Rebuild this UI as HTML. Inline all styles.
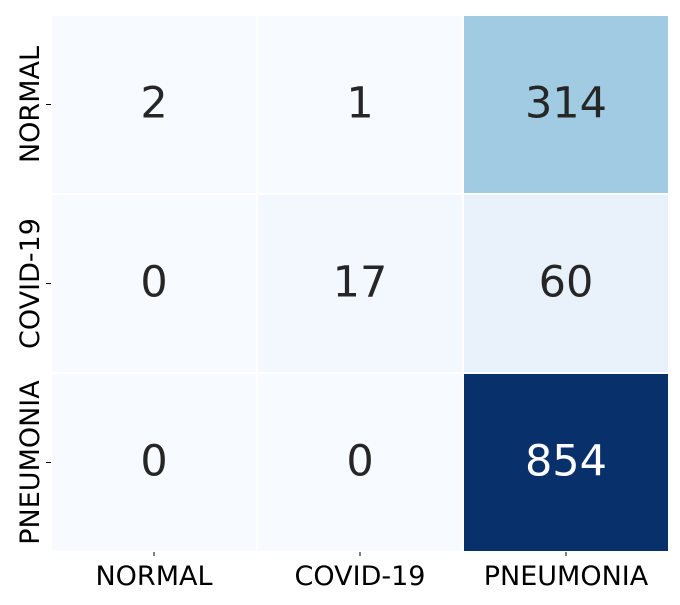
<!DOCTYPE html>
<html><head><meta charset="utf-8"><style>
body{margin:0;background:#fff;width:680px;height:600px;overflow:hidden}
svg{font-family:"DejaVu Sans","Liberation Sans",sans-serif}
</style></head><body>
<svg id="chart" width="680" height="600" xmlns="http://www.w3.org/2000/svg"></svg>
<script>
const categories=["NORMAL","COVID-19","PNEUMONIA"];
const row0=[2,1,314];
const row1=[0,17,60];
const row2=[0,0,854];
const matrix=[row0,row1,row2];
const vmax=854;
const svg=document.getElementById('chart');
const NS='http://www.w3.org/2000/svg';
const L=51,T=15,W=618,H=537;
const cw=W/3,ch=H/3;
const xs=i=>L+i*cw, ys=j=>T+j*ch;
const stops=[[0,[247,251,255]],[0.125,[222,235,247]],[0.25,[198,219,239]],[0.375,[158,202,225]],[0.5,[107,174,214]],[0.625,[66,146,198]],[0.75,[33,113,181]],[0.875,[8,81,156]],[1,[8,48,107]]];
function color(v){const t=Math.max(0,Math.min(1,v/vmax));for(let k=1;k<stops.length;k++){if(t<=stops[k][0]){const a=stops[k-1],b=stops[k];const f=(t-a[0])/(b[0]-a[0]);const c=a[1].map((x,i)=>Math.round(x+(b[1][i]-x)*f));return `rgb(${c})`;}}return 'rgb(8,48,107)';}
function mk(tag,attrs,txt){const e=document.createElementNS(NS,tag);for(const k in attrs)e.setAttribute(k,attrs[k]);if(txt!==undefined)e.textContent=txt;svg.appendChild(e);return e;}
matrix.forEach((row,j)=>row.forEach((v,i)=>{
 const r=mk('rect',{x:xs(i),y:ys(j),width:cw,height:ch,fill:color(v),stroke:'#fff','stroke-width':2});
 
 
 const t=mk('text',{x:xs(i)+cw/2,y:ys(j)+ch/2+13,'text-anchor':'middle','font-size':43,fill:v/vmax>0.6?'#fff':'#262626'},v);
 
 
}));
categories.forEach((c,i)=>{
 const tk=mk('line',{x1:xs(i)+cw/2,x2:xs(i)+cw/2,y1:T+H,y2:T+H+4,stroke:'#000','stroke-width':1});
 
 
 const t=mk('text',{x:xs(i)+cw/2,y:585,'text-anchor':'middle','font-size':27,fill:'#000'},c);
 
 
 const ty=mk('line',{x1:L-5,x2:L,y1:ys(i)+ch/2,y2:ys(i)+ch/2,stroke:'#000','stroke-width':1});
 
 
 const cx=39,cy=ys(i)+ch/2;
 const t2=mk('text',{x:cx,y:cy,'text-anchor':'middle','font-size':27,fill:'#000',transform:`rotate(-90 ${cx} ${cy})`},c);
 
 
});
</script>
</body></html>
